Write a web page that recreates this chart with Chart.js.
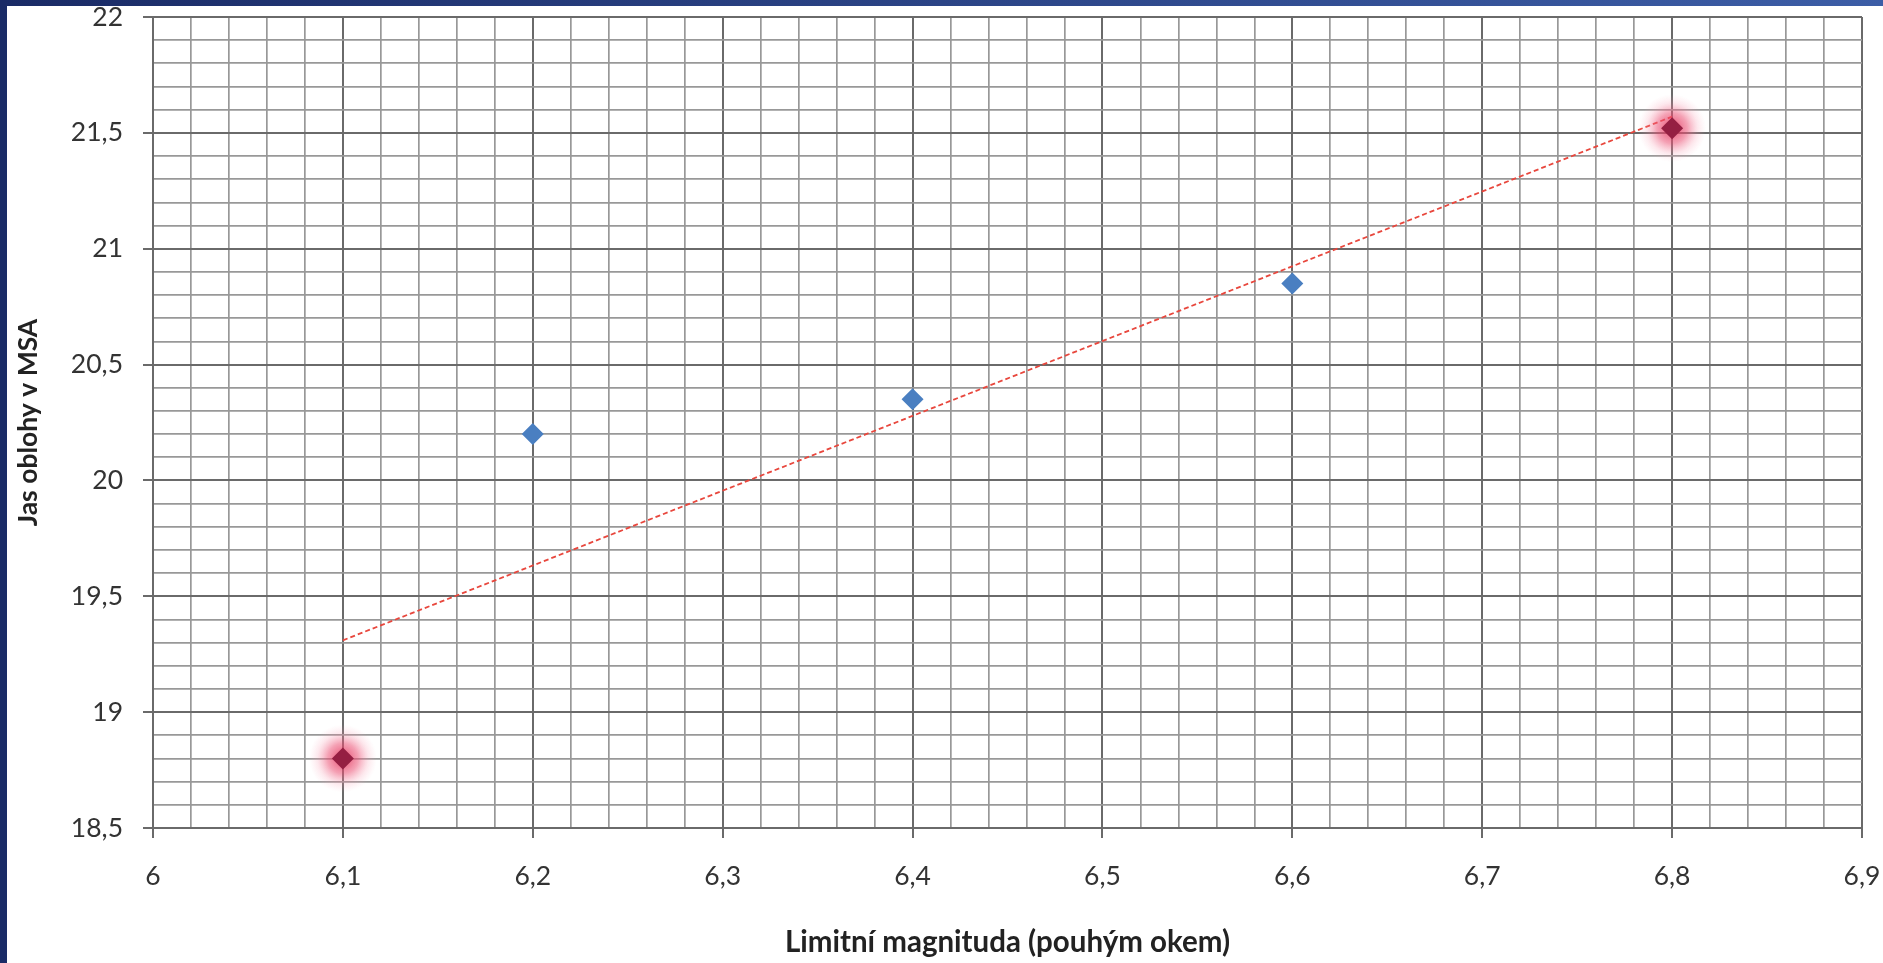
<!DOCTYPE html>
<html>
<head>
<meta charset="utf-8">
<title>Jas oblohy vs. limitní magnituda</title>
<script src="https://cdn.jsdelivr.net/npm/chart.js@4.4.1/dist/chart.umd.min.js"></script>
<style>
  html, body { margin: 0; padding: 0; background: #fff; overflow: hidden; }
  #wrap { position: relative; width: 1883px; height: 963px; }
  #topbar { position: absolute; left: 0; top: 0; width: 100%; height: 6px;
            background: linear-gradient(90deg, #1a2b66, #3c5da6); z-index: 2; }
  #leftbar { position: absolute; left: 0; top: 0; width: 7px; height: 100%;
             background: #1a2b66; z-index: 2; }
</style>
</head>
<body>
<div id="wrap">
  <canvas id="skyChart" width="1883" height="963"></canvas>
  <div id="topbar"></div>
  <div id="leftbar"></div>
</div>
<script>
// measured values
const magnitude = [6.1, 6.2, 6.4, 6.6, 6.8];
const skyBrightness = [18.8, 20.2, 20.35, 20.85, 21.52];
const highlighted = [true, false, false, false, true];

// linear trend line as drawn in the picture
const trendMagnitude = [6.1, 6.8];
const trendBrightness = [19.31, 21.57];

// axis ranges
const xRange = [6, 6.9];
const xSteps = [0.1, 0.02]; // major, minor
const yRange = [18.5, 22];
const ySteps = [0.5, 0.1];

const FONT = "Lato, 'Open Sans', sans-serif";

function toPoints(xs, ys) {
  return xs.map((x, i) => ({ x: x, y: ys[i] }));
}

function isMajor(value, step) {
  const r = value / step;
  return Math.abs(r - Math.round(r)) < 1e-6;
}

function czech(value) {
  return String(Math.round(value * 100) / 100).replace(".", ",");
}

const normalPoints = toPoints(magnitude, skyBrightness).filter((p, i) => !highlighted[i]);
const glowPoints = toPoints(magnitude, skyBrightness).filter((p, i) => highlighted[i]);

// soft pink halo under the highlighted points
const glowPlugin = {
  id: "glow",
  beforeDatasetDraw(chart, args) {
    if (!chart.data.datasets[args.index].glow) return;
    const ctx = chart.ctx;
    const r = 34;
    args.meta.data.forEach((pt) => {
      const g = ctx.createRadialGradient(pt.x, pt.y, 0, pt.x, pt.y, r);
      g.addColorStop(0, "rgba(225, 50, 90, 0.9)");
      g.addColorStop(0.45, "rgba(236, 85, 120, 0.55)");
      g.addColorStop(0.75, "rgba(245, 140, 165, 0.2)");
      g.addColorStop(1, "rgba(250, 170, 190, 0)");
      ctx.save();
      ctx.fillStyle = g;
      ctx.beginPath();
      ctx.arc(pt.x, pt.y, r, 0, Math.PI * 2);
      ctx.fill();
      ctx.restore();
    });
  }
};

function gridOpts(step) {
  return {
    color: (c) => isMajor(c.tick.value, step) ? "#6a6a6a" : "#989898",
    lineWidth: (c) => isMajor(c.tick.value, step) ? 2 : 1.7,
    tickColor: (c) => isMajor(c.tick.value, step) ? "#6a6a6a" : "rgba(0,0,0,0)",
    tickLength: 10
  };
}

new Chart(document.getElementById("skyChart"), {
  type: "scatter",
  data: {
    datasets: [
      {
        label: "zvýrazněné",
        data: glowPoints,
        glow: true,
        pointStyle: "rectRot",
        pointRadius: 11,
        backgroundColor: "#951f42",
        borderColor: "#951f42",
        borderWidth: 0
      },
      {
        label: "měření",
        data: normalPoints,
        pointStyle: "rectRot",
        pointRadius: 11,
        backgroundColor: "#4a7fc1",
        borderColor: "#4a7fc1",
        borderWidth: 0
      },
      {
        label: "trend",
        type: "line",
        data: toPoints(trendMagnitude, trendBrightness),
        borderColor: "#e8473d",
        borderWidth: 1.8,
        borderDash: [5, 3],
        pointRadius: 0,
        fill: false
      }
    ]
  },
  options: {
    responsive: false,
    animation: false,
    layout: { padding: { top: 17, right: 21, bottom: 0, left: 0 } },
    plugins: {
      legend: { display: false },
      tooltip: { enabled: false }
    },
    scales: {
      x: {
        type: "linear",
        min: xRange[0],
        max: xRange[1],
        grid: gridOpts(xSteps[0]),
        border: { color: "#6a6a6a", width: 2 },
        ticks: {
          stepSize: xSteps[1],
          autoSkip: false,
          maxRotation: 0,
          minRotation: 0,
          padding: 23,
          color: "#333",
          font: { family: FONT, size: 26.5 },
          callback: (v) => isMajor(v, xSteps[0]) ? czech(v) : ""
        },
        title: {
          display: true,
          text: "Limitní magnituda (pouhým okem)",
          color: "#222",
          font: { family: FONT, size: 29.5, weight: "bold" },
          padding: { top: 0, bottom: 3 }
        },
        afterFit: (scale) => {
          scale.height = 135;
          scale.paddingLeft = 0;
          scale.paddingRight = 0;
        }
      },
      y: {
        type: "linear",
        min: yRange[0],
        max: yRange[1],
        grid: gridOpts(ySteps[0]),
        border: { color: "#6a6a6a", width: 2 },
        ticks: {
          stepSize: ySteps[1],
          autoSkip: false,
          padding: 20,
          color: "#333",
          font: { family: FONT, size: 26.5 },
          callback: (v) => isMajor(v, ySteps[0]) ? czech(v) : ""
        },
        title: {
          display: true,
          text: "Jas oblohy v MSA",
          color: "#222",
          font: { family: FONT, size: 26.5, weight: "bold" },
          padding: { top: 13, bottom: 0 }
        },
        afterFit: (scale) => {
          scale.width = 153;
          scale.paddingTop = 0;
          scale.paddingBottom = 0;
        }
      }
    }
  },
  plugins: [glowPlugin]
});
</script>
</body>
</html>
